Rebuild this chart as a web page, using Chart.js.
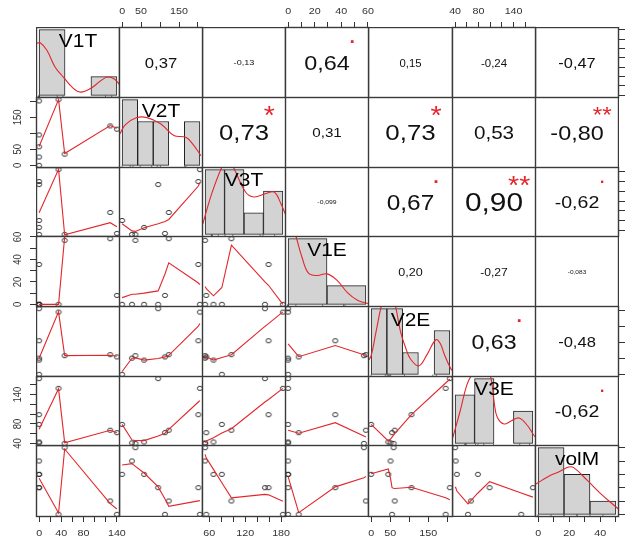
<!DOCTYPE html>
<html>
<head>
<meta charset="utf-8">
<script src="https://cdn.jsdelivr.net/npm/chart.js@4.4.1/dist/chart.umd.min.js"></script>
<style>
  body { margin: 0; background: #fff; width: 634px; height: 538px; overflow: hidden; position: relative; }
  canvas { position: absolute; }
</style>
</head>
<body>
<script>
var varNames = ['V1T', 'V2T', 'V3T', 'V1E', 'V2E', 'V3E', 'volM'];
var v1t  = [0, 35, 0, 0, 0, 0, 46, 128, 140];
var v2t  = [201, 205, 95, 58, 26, 0, 35, 123, 113];
var v3t  = [159, 183, 153, 67, 53, 81, 53, 97, 55];
var v1e  = [35.5, 0, 0, 0, 0, 0, 57, 58.5, 8];
var v2e  = [106, 196, 207, 45, 51, 0, 59, 62, 55];
var v3e  = [99, 153, 173, 43, 41, 79, 40, 67, 62];
var volM = [20, 0, 20, 30, 40, 30, 50, 10, 0];
var vars = [v1t, v2t, v3t, v1e, v2e, v3e, volM];

// axis ticks and the labels R printed (blank = skipped label)
var axisTicks = [
  [0, 20, 40, 60, 80, 100, 120, 140],
  [0, 50, 100, 150, 200],
  [60, 80, 100, 120, 140, 160, 180],
  [0, 10, 20, 30, 40, 50, 60],
  [0, 50, 100, 150, 200],
  [40, 60, 80, 100, 120, 140, 160],
  [0, 10, 20, 30, 40, 50]
];
var axisLabels = [
  ['0', '', '40', '', '80', '', '', '140'],
  ['0', '50', '', '150', ''],
  ['60', '', '', '120', '', '', '180'],
  ['0', '', '20', '', '40', '', '60'],
  ['0', '50', '', '150', ''],
  ['40', '', '80', '', '', '140', ''],
  ['0', '', '20', '', '40', '']
];

// histograms on the diagonal
var histBreaks = [
  [0, 50, 100, 150],
  [0, 50, 100, 150, 200, 250],
  [40, 80, 120, 160, 200],
  [0, 40, 80],
  [0, 50, 100, 150, 200, 250],
  [20, 60, 100, 140, 180],
  [0, 20, 40, 60]
];
var histCounts = [
  [7, 0, 2],
  [3, 2, 2, 0, 2],
  [3, 3, 1, 2],
  [7, 2],
  [3, 3, 1, 0, 2],
  [3, 4, 0, 2],
  [5, 3, 1]
];

// density curves (x in data units, y in count units)
var densV1T = [[-6, 5.5], [2, 5.6], [15, 4.8], [31, 3.0], [47.5, 1.9], [65, 0.8], [80, 0.35], [100, 0.75], [117.5, 1.5], [132, 1.95], [145, 1.75], [156, 1.1]];
var densV2T = [[-6.75, 1.44], [10, 1.85], [47.5, 2.18], [80, 2.18], [123.5, 1.9], [166.5, 1.36], [204.5, 1.28], [226.5, 0.98], [253.5, 0.44]];
var densV3T = [[35.2, 0.48], [53.8, 1.9], [74.8, 3.13], [86, 3.5], [97.6, 3.13], [123.2, 1.96], [140.4, 1.73], [164.8, 1.89], [182, 1.96], [196, 1.42], [206.4, 0.87]];
var densV1E = [[-3.2, 11], [8.2, 7.2], [14.2, 5.04], [21, 3.32], [29.8, 3.07], [40.2, 3.25], [50.6, 2.53], [61, 1.26], [71.4, 0.44], [82, 0.08]];
var densV2E = [[-10, 0.6], [0, 0.85], [15, 1.9], [32, 3.1], [55, 4.2], [77.5, 3.1], [92.5, 2.0], [109, 1.24], [125, 0.7], [151.5, 0.39], [177.5, 0.9], [205.5, 1.58], [220, 1.4], [232, 0.93], [253.5, 0.24], [260, 0.15]];
var densV3E = [[15.2, 0.36], [30.4, 2.0], [44, 3.6], [54, 4.2], [74, 4.8], [92, 4.2], [100, 2.6], [106.8, 1.61], [120.4, 1.2], [136, 1.4], [151.6, 1.57], [169.2, 1.09], [182.8, 0.47], [188, 0.3]];
var densVolM = [[-2.4, 2.23], [9.3, 2.92], [15.8, 3.17], [23.6, 3.55], [27.5, 3.5], [38, 2.54], [48.4, 1.53], [60.6, 0.51], [62.4, 0.35]];
var densities = [densV1T, densV2T, densV3T, densV1E, densV2E, densV3E, densVolM];

// red smoothing lines of the lower panels, key = row-col
var smoothLines = {
  '2-1': [[0, 59], [35, 205], [46, 37], [128, 124], [140, 116]],
  '3-1': [[0, 96.5], [35, 183.6], [46, 52], [128, 76.5], [140, 68.5]],
  '4-1': [[0, 0], [35, 0], [46, 60], [128, 90], [140, 95]],
  '5-1': [[0, 51], [35, 197], [46, 59], [128, 60], [140, 57]],
  '6-1': [[0, 69], [35, 152], [46, 41.5], [128, 67], [140, 62]],
  '7-1': [[0, 27], [35, 1], [46, 49], [128, 8], [140, 4]],
  '3-2': [[0, 74.5], [26, 60], [35, 59], [58, 66.5], [95, 74.5], [113, 79], [123, 83], [201, 150], [205, 157]],
  '4-2': [[0, 6], [26, 9], [35, 9], [58, 10], [95, 12], [113, 27], [123, 37], [201, 19], [205, 17.5]],
  '5-2': [[0, 9], [26, 51], [35, 52], [58, 45], [95, 50], [113, 55], [123, 60], [201, 152], [205, 160]],
  '6-2': [[0, 79], [26, 47], [35, 46], [58, 45.7], [95, 55], [113, 61], [123, 69], [201, 125], [205, 128]],
  '7-2': [[0, 37], [26, 38], [35, 36], [58, 31], [95, 20.6], [113, 11.5], [123, 6], [201, 10.1], [205, 10.3]],
  '4-3': [[53, 16], [55, 14], [67, 7.6], [81, 15], [97, 52.7], [153, 20], [159, 17], [183, 0]],
  '5-3': [[53, 58.8], [55, 55], [67, 45], [81, 53], [97, 62], [153, 151], [159, 160], [183, 197]],
  '6-3': [[53, 41.5], [55, 45], [67, 51.7], [81, 61.4], [97, 70], [153, 125], [159, 130], [183, 153]],
  '7-3': [[53, 45], [55, 42.2], [67, 33.7], [81, 23.7], [97, 12.4], [153, 15], [159, 14.6], [183, 9.8]],
  '5-4': [[0, 96], [8, 55.6], [35.5, 90.7], [57, 62], [58.5, 60]],
  '6-4': [[0, 67], [8, 61], [35.5, 82.5], [57, 55], [58.5, 53]],
  '7-4': [[0, 28.3], [8, 1.3], [35.5, 20.6], [57, 27.5], [58.5, 28.3]],
  '6-5': [[0, 79], [45, 45], [51, 49], [55, 53], [59, 57], [62, 60], [106, 99], [196, 164], [207, 172]],
  '7-5': [[0, 30.4], [45, 34], [51, 27], [55, 20], [59, 19.5], [62, 19.4], [106, 20.3], [196, 12.5], [207, 10.9]],
  '7-6': [[40, 20.6], [41, 20], [43, 17.5], [62, 7.8], [67, 10.2], [79, 16], [99, 24.5], [153, 16], [173, 12.9]]
};

// upper panels: row, col, correlation text, significance stars
var corLabels = [
  [1, 2, '0,37', ''], [1, 3, '-0,13', ''], [1, 4, '0,64', '.'], [1, 5, '0,15', ''], [1, 6, '-0,24', ''], [1, 7, '-0,47', ''],
  [2, 3, '0,73', '*'], [2, 4, '0,31', ''], [2, 5, '0,73', '*'], [2, 6, '0,53', ''], [2, 7, '-0,80', '**'],
  [3, 4, '-0,099', ''], [3, 5, '0,67', '.'], [3, 6, '0,90', '**'], [3, 7, '-0,62', '.'],
  [4, 5, '0,20', ''], [4, 6, '-0,27', ''], [4, 7, '-0,083', ''],
  [5, 6, '0,63', '.'], [5, 7, '-0,48', ''],
  [6, 7, '-0,62', '.']
];

// ---- layout ----
var colX = [36, 119, 202, 285, 368, 452, 535, 618];
var rowY = [27, 97, 167, 236, 306, 376, 445, 516];
var RED = '#e3262b';
var FONT = '"Liberation Sans", Arial, sans-serif';
var SX = 1.13; // the picture is a little wider than tall

Chart.defaults.animation = false;
Chart.defaults.events = [];
Chart.defaults.plugins.legend.display = false;
Chart.defaults.plugins.tooltip.enabled = false;

// open circle marker, slightly wide like the reference
var dot = document.createElement('canvas');
dot.width = 8; dot.height = 7;
var dc = dot.getContext('2d');
dc.strokeStyle = '#222'; dc.lineWidth = 0.9;
dc.beginPath(); dc.ellipse(4, 3.5, 2.6, 2.1, 0, 0, Math.PI * 2); dc.stroke();

function ext(a) {
  var lo = Math.min.apply(null, a), hi = Math.max.apply(null, a), d = (hi - lo) * 0.04;
  return [lo - d, hi + d];
}

function putText(ctx, txt, x, y, size, color, rot, base) {
  ctx.save();
  ctx.translate(x, y);
  ctx.scale(SX, 1);
  if (rot) ctx.rotate(rot);
  ctx.font = size + 'px ' + FONT;
  ctx.fillStyle = color;
  ctx.textAlign = 'center';
  ctx.textBaseline = base || 'middle';
  ctx.fillText(txt, 0, 0);
  ctx.restore();
}

// glyph-box centred text
function boxText(ctx, txt, x, y, size, color) {
  ctx.save();
  ctx.font = size + 'px ' + FONT;
  var m = ctx.measureText(txt);
  var off = (m.actualBoundingBoxAscent - m.actualBoundingBoxDescent) / 2;
  ctx.restore();
  putText(ctx, txt, x, y + off, size, color, 0, 'alphabetic');
}

var deco = {
  id: 'deco',
  afterDraw: function(chart, args, o) {
    var ctx = chart.ctx, ca = chart.chartArea;
    var i = o.row, j = o.col;
    ctx.save();
    if (i === j) {
      var xh = chart.scales.xh;
      ctx.strokeStyle = '#333'; ctx.lineWidth = 0.7;
      vars[i].forEach(function(v) {
        var px = xh.getPixelForValue(v);
        ctx.beginPath(); ctx.moveTo(px, ca.bottom); ctx.lineTo(px, ca.bottom - 2.5); ctx.stroke();
      });
    }
    ctx.strokeStyle = '#3a3a3a'; ctx.lineWidth = 1.4;
    ctx.strokeRect(ca.left + 0.5, ca.top + 0.5, ca.right - ca.left - 1, ca.bottom - ca.top - 1);

    var xd = chart.scales.xd, yd = chart.scales.yd;
    if (o.top || o.bottom) {
      axisTicks[j].forEach(function(t, k) {
        if (!axisLabels[j][k]) return;
        var px = xd.getPixelForValue(t);
        putText(ctx, axisLabels[j][k], px, o.top ? ca.top - 15.5 : ca.bottom + 16.5, 9.5, '#333');
      });
    }
    if (o.left) {
      axisTicks[i].forEach(function(t, k) {
        if (!axisLabels[i][k]) return;
        var py = yd.getPixelForValue(t);
        putText(ctx, axisLabels[i][k], ca.left - 17.5, py, 9.5, '#333', -Math.PI / 2);
      });
    }

    var cx = (ca.left + ca.right) / 2, w = ca.right - ca.left, h = ca.bottom - ca.top;
    if (i === j) {
      boxText(ctx, varNames[i], cx, ca.bottom - 0.815 * h, 18.5, '#000');
    }
    if (o.cor) {
      var txt = o.cor[0], star = o.cor[1];
      var r = Math.abs(parseFloat(txt.replace(',', '.')));
      ctx.font = '100px ' + FONT;
      var w100 = ctx.measureText(txt).width * SX;
      var full = 100 * 0.75 * w / w100;
      var size = full * (r + 0.3) / 1.3;
      ctx.font = size + 'px ' + FONT;
      var capH = ctx.measureText('0').actualBoundingBoxAscent;
      putText(ctx, txt, cx, (ca.top + ca.bottom) / 2 + capH / 2, size, '#111', 0, 'alphabetic');
      if (star) boxText(ctx, star, ca.left + 0.8 * w, ca.bottom - 0.8 * h, full * 0.88, RED);
    }
    ctx.restore();
  }
};
Chart.register(deco);

function axisScale(v, range, position, show, size) {
  var isX = position === 'top' || position === 'bottom';
  return {
    type: 'linear', position: position, display: show, min: range[0], max: range[1], offset: false,
    grid: { display: true, drawOnChartArea: false, drawTicks: true, tickLength: isX ? 5 : 6,
            color: '#333', lineWidth: 1, offset: false },
    border: { display: false },
    ticks: { display: false },
    afterBuildTicks: function(s) { s.ticks = axisTicks[v].map(function(t) { return { value: t }; }); },
    afterFit: function(s) {
      if (isX) s.height = size; else s.width = size;
      s.paddingLeft = s.paddingRight = s.paddingTop = s.paddingBottom = 0;
    }
  };
}

function pts(a) { return a.map(function(p) { return { x: p[0], y: p[1] }; }); }

function makeCell(i, j) {
  var L = colX[j], T = rowY[i];
  var W = colX[j + 1] - L + 1, H = rowY[i + 1] - T + 1;
  var top = i === 0 && j % 2 === 1;
  var bottom = i === 6 && j % 2 === 0;
  var left = j === 0 && i % 2 === 1;
  var right = j === 6 && i % 2 === 0;
  var pT = top ? T : 0, pB = bottom ? 538 - (T + H) : 0;
  var pL = left ? L : 0, pR = right ? 634 - (L + W) : 0;
  // extra room so end labels of an axis are not cut by the canvas edge
  var ex = (top || bottom) ? 14 : 0, ey = left ? 14 : 0;

  var cv = document.createElement('canvas');
  cv.width = W + pL + pR + 2 * ex; cv.height = H + pT + pB + 2 * ey;
  cv.style.left = (L - pL - ex) + 'px'; cv.style.top = (T - pT - ey) + 'px';
  document.body.appendChild(cv);

  var scales = {
    xd: axisScale(j, ext(vars[j]), top ? 'top' : 'bottom', top || bottom, top ? pT : pB),
    yd: axisScale(i, ext(vars[i]), left ? 'left' : 'right', left || right, left ? pL : pR)
  };
  var datasets = [];
  var cor = null;

  if (i > j) {
    datasets.push({
      type: 'line', data: pts(smoothLines[(i + 1) + '-' + (j + 1)]), xAxisID: 'xd', yAxisID: 'yd',
      borderColor: RED, borderWidth: 1.1, pointRadius: 0, showLine: true, tension: 0, fill: false
    });
    datasets.push({
      type: 'scatter', xAxisID: 'xd', yAxisID: 'yd', showLine: false,
      data: vars[j].map(function(x, k) { return { x: x, y: vars[i][k] }; }),
      pointStyle: dot, pointRadius: 3
    });
  } else if (i === j) {
    var br = histBreaks[i], cn = histCounts[i];
    var span = br[br.length - 1] - br[0], cmax = Math.max.apply(null, cn);
    scales.xh = { type: 'linear', display: false, offset: false, grid: { offset: false },
                  min: br[0] - 0.04 * span, max: br[br.length - 1] + 0.04 * span };
    scales.yh = { type: 'linear', display: false, min: -0.04 * cmax, max: 1.04 * cmax };
    datasets.push({
      type: 'line', data: pts(densities[i]), xAxisID: 'xh', yAxisID: 'yh',
      borderColor: RED, borderWidth: 1.1, pointRadius: 0, showLine: true, tension: 0.4, fill: false
    });
    datasets.push({
      type: 'bar', xAxisID: 'xh', yAxisID: 'yh',
      data: cn.map(function(c, k) { return { x: (br[k] + br[k + 1]) / 2, y: c }; }),
      backgroundColor: '#d3d3d3', borderColor: '#222', borderWidth: 1, borderSkipped: false,
      barPercentage: 1, categoryPercentage: 1, grouped: false
    });
  } else {
    corLabels.forEach(function(c) { if (c[0] === i + 1 && c[1] === j + 1) cor = [c[2], c[3]]; });
  }

  new Chart(cv, {
    type: i === j ? 'bar' : 'scatter',
    data: { datasets: datasets },
    options: {
      responsive: false, devicePixelRatio: 1, maintainAspectRatio: false,
      layout: { padding: { left: ex, right: ex, top: ey, bottom: ey }, autoPadding: false },
      scales: scales,
      plugins: { deco: { row: i, col: j, top: top, bottom: bottom, left: left, cor: cor } }
    }
  });
}

for (var i = 0; i < 7; i++) {
  for (var j = 0; j < 7; j++) makeCell(i, j);
}
</script>
</body>
</html>
